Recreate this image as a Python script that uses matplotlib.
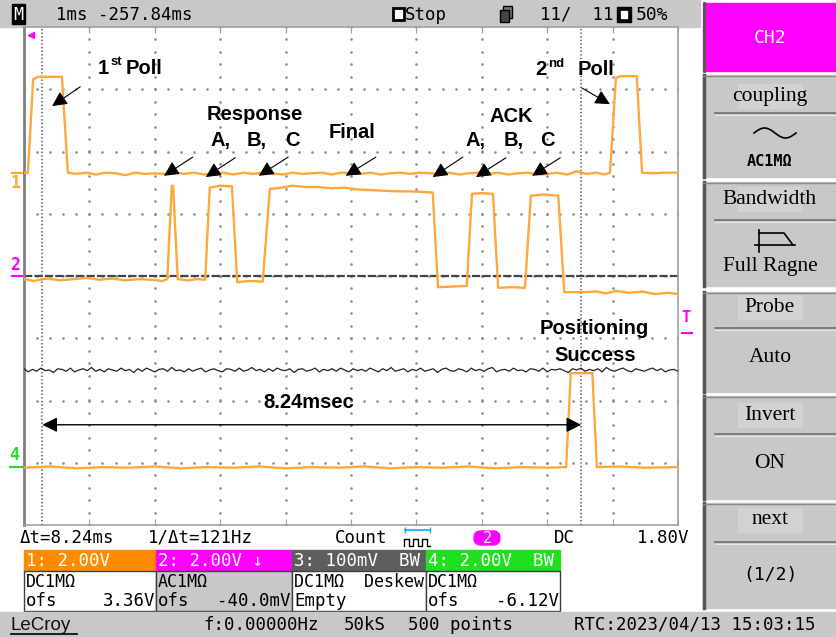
import numpy as np
import matplotlib.pyplot as plt
from matplotlib.patches import Rectangle, FancyBboxPatch

plt.rcParams['lines.scale_dashes'] = False

W, H = 837, 637

# traces: (time in ms from left edge, level in divisions)
ch1 = [(0.00, 1.66), (0.06, 1.66), (0.14, 3.16), (0.22, 3.20), (0.58, 3.20), (0.67, 1.66),
       (0.80, 1.64), (0.95, 1.66), (1.10, 1.63), (1.25, 1.66), (1.40, 1.65), (1.55, 1.62),
       (1.70, 1.66), (1.85, 1.64), (2.00, 1.65), (2.15, 1.64), (2.30, 1.67), (2.45, 1.64),
       (2.60, 1.66), (2.75, 1.63), (2.90, 1.65), (3.05, 1.66), (3.20, 1.63), (3.35, 1.66),
       (3.50, 1.64), (3.65, 1.66), (3.80, 1.65), (3.95, 1.63), (4.10, 1.66), (4.25, 1.64),
       (4.40, 1.65), (4.55, 1.66), (4.70, 1.63), (4.85, 1.66), (5.00, 1.65), (5.15, 1.64),
       (5.30, 1.66), (5.45, 1.63), (5.60, 1.65), (5.75, 1.66), (5.90, 1.64), (6.05, 1.66),
       (6.20, 1.65), (6.35, 1.64), (6.50, 1.66), (6.65, 1.63), (6.80, 1.65), (6.95, 1.66),
       (7.10, 1.64), (7.25, 1.66), (7.40, 1.63), (7.55, 1.65), (7.70, 1.66), (7.85, 1.63),
       (8.00, 1.64), (8.15, 1.66), (8.30, 1.63), (8.45, 1.68), (8.60, 1.64), (8.75, 1.66),
       (8.88, 1.63), (8.96, 1.66), (9.05, 3.18), (9.12, 3.21), (9.37, 3.21), (9.45, 1.66),
       (9.60, 1.65), (9.80, 1.66), (10.00, 1.66)]

ch2 = [(0.00, -0.05), (0.15, -0.08), (0.35, -0.04), (0.55, -0.07), (0.75, -0.05), (0.95, -0.03),
       (1.15, -0.06), (1.35, -0.04), (1.55, -0.07), (1.75, -0.05), (1.95, -0.06), (2.12, -0.08),
       (2.19, -0.05), (2.26, 1.45), (2.28, 1.45), (2.35, -0.05), (2.50, -0.07), (2.65, -0.05),
       (2.77, -0.06), (2.84, 1.42), (3.00, 1.45), (3.18, 1.44), (3.26, -0.10), (3.45, -0.08),
       (3.65, -0.09), (3.76, 1.40), (3.95, 1.42), (4.10, 1.45), (4.30, 1.43), (4.50, 1.43),
       (4.70, 1.41), (4.90, 1.42), (5.10, 1.39), (5.30, 1.38), (5.50, 1.37), (5.70, 1.36),
       (5.90, 1.36), (6.10, 1.35), (6.25, 1.34), (6.33, -0.18), (6.55, -0.17), (6.77, -0.16),
       (6.85, 1.32), (7.00, 1.33), (7.17, 1.32), (7.25, -0.19), (7.45, -0.18), (7.66, -0.19),
       (7.75, 1.29), (7.95, 1.31), (8.17, 1.29), (8.26, -0.26), (8.50, -0.26), (8.75, -0.25),
       (8.90, -0.28), (9.05, -0.24), (9.25, -0.27), (9.45, -0.25), (9.65, -0.29), (9.85, -0.27),
       (10.00, -0.29)]

ch4 = [(0.00, -3.08), (0.40, -3.06), (0.80, -3.09), (1.20, -3.07), (1.60, -3.08), (2.00, -3.06),
       (2.40, -3.09), (2.80, -3.07), (3.20, -3.08), (3.60, -3.06), (4.00, -3.09), (4.40, -3.07),
       (4.80, -3.08), (5.20, -3.06), (5.60, -3.09), (6.00, -3.07), (6.40, -3.08), (6.80, -3.06),
       (7.20, -3.09), (7.60, -3.07), (8.00, -3.08), (8.29, -3.07), (8.36, -1.56), (8.69, -1.56),
       (8.76, -3.07), (9.10, -3.06), (9.50, -3.08), (10.00, -3.07)]

ch3_level = -1.51
ch3_noise = [0.02, -0.03, 0.01, -0.02, 0.03, -0.01, 0.00, -0.04, 0.02, 0.01, -0.02, 0.03, -0.03, 0.00,
             0.02, -0.01, 0.04, -0.02, 0.01, -0.03, 0.02, 0.00, -0.02, 0.03, -0.01, 0.01, -0.04, 0.02,
             -0.02, 0.03, 0.00, -0.03, 0.01, 0.02, -0.02, 0.04, -0.01, 0.00, -0.03, 0.02, -0.02, 0.01,
             0.03, -0.03, 0.00, 0.02, -0.01, -0.03, 0.02, 0.01, -0.02, 0.03, -0.02, 0.00, 0.04, -0.01,
             0.01, -0.03, 0.02, -0.02, 0.03, 0.00, -0.01, 0.02, -0.04, 0.01, 0.02, -0.02, 0.00, 0.03,
             -0.03, 0.01, -0.01, 0.02, -0.02, 0.03, 0.00, -0.03, 0.02, -0.01,
             0.01, -0.02, 0.03, 0.00, -0.03, 0.02, -0.01, 0.04, -0.02, 0.00, 0.02, -0.03, 0.01, -0.01,
             0.03, -0.02, 0.00, 0.02, -0.04, 0.01, 0.03, -0.01, -0.02, 0.02, 0.00, -0.03, 0.03, -0.01,
             0.01, -0.02, 0.02, 0.04, -0.03, 0.00, 0.01, -0.02, 0.03, -0.01, 0.00, -0.03, 0.02, 0.01,
             -0.02, 0.03, -0.03, 0.01, 0.00, 0.02, -0.01, -0.04, 0.02, 0.00, 0.03, -0.02, 0.01, -0.01,
             0.02, -0.03, 0.04, 0.00, -0.02, 0.01, 0.03, -0.01, -0.03, 0.02, 0.00, -0.02, 0.01, 0.03,
             -0.01, 0.02, -0.03, 0.00, 0.01, -0.02]

cursors = [0.28, 8.52]
ch_levels = {'1': 1.66, '2': 0.0, '4': -3.07}

boxes = [('1: 2.00V', 'DC1MΩ', 'ofs', '3.36V', '#ff8c00', 'white'),
         ('2: 2.00V ↓', 'AC1MΩ', 'ofs', '-40.0mV', '#ff00ff', '#c8c8c8'),
         ('3: 100mV  BW', 'DC1MΩ  Deskew', 'Empty', '', '#5e5e5e', 'white'),
         ('4: 2.00V  BW', 'DC1MΩ', 'ofs', '-6.12V', '#1ee01e', 'white')]

menu = [('coupling', 'AC1MΩ'), ('Bandwidth', 'Full Ragne'), ('Probe', 'Auto'),
        ('Invert', 'ON'), ('next', '(1/2)')]

MONO = 'DejaVu Sans Mono'
SANS = 'Liberation Sans'
SERIF = 'Liberation Serif'
ORANGE = '#ffa83a'
MAGENTA = '#ff00ff'
GRAY = '#c8c8c8'

fig = plt.figure(figsize=(W / 100, H / 100), dpi=100)
ui = fig.add_axes([0, 0, 1, 1])
ui.set_xlim(0, W)
ui.set_ylim(H, 0)
ui.axis('off')

# ---- top bar ----
ui.add_patch(Rectangle((0, 0), 700, 27, color=GRAY))
ui.add_patch(Rectangle((12, 4), 13, 20, color='black'))
ui.text(18.5, 14.5, 'M', color='white', family=MONO, fontsize=12, ha='center', va='center')
ui.text(56, 14.5, '1ms -257.84ms', family=MONO, fontsize=12.5, va='center')
ui.add_patch(Rectangle((393, 8), 11, 12, facecolor='white', edgecolor='black', lw=2))
ui.text(405, 14.5, 'Stop', family=MONO, fontsize=12.5, va='center')
ui.add_patch(Rectangle((503, 6), 9, 12, facecolor='#777777', edgecolor='black', lw=1))
ui.add_patch(Rectangle((500, 10), 9, 12, facecolor='#444444', edgecolor='black', lw=1))
ui.text(540, 14.5, '11/  11', family=MONO, fontsize=12.5, va='center')
ui.add_patch(Rectangle((617, 7), 14, 15, color='black'))
ui.add_patch(Rectangle((621, 11), 6, 7, color='white'))
ui.text(636, 14.5, '50%', family=MONO, fontsize=13, va='center')

# ---- status row ----
ui.text(20, 538, 'Δt=8.24ms', family=MONO, fontsize=12.5, va='center')
ui.text(148, 538, '1/Δt=121Hz', family=MONO, fontsize=12.5, va='center')
ui.text(335, 538, 'Count', family=MONO, fontsize=12.5, va='center')
ui.plot([405, 430], [530, 530], color='#00b0f0', lw=1.2)
ui.plot([405, 430], [530, 530], ls='none', marker='|', color='#00b0f0', ms=5)
ui.plot([404, 404, 409, 409, 413, 413, 418, 418, 422, 422, 427, 427, 430],
        [546, 539, 539, 546, 546, 539, 539, 546, 546, 539, 539, 546, 546], color='black', lw=1)
ui.add_patch(FancyBboxPatch((474, 531), 26, 14, boxstyle='round,pad=0,rounding_size=7', color=MAGENTA))
ui.text(487, 538.5, '2', color='white', family=MONO, fontsize=11, ha='center', va='center')
ui.text(554, 538, 'DC', family=MONO, fontsize=12.5, va='center')
ui.text(689, 538, '1.80V', family=MONO, fontsize=12.5, va='center', ha='right')

# ---- channel boxes ----
bx = [24, 156, 292, 426, 560]
for i, (head, l1, l2, val, hc, bc) in enumerate(boxes):
    x0, x1 = bx[i], bx[i + 1]
    ui.add_patch(Rectangle((x0, 550), x1 - x0, 21, color=hc))
    ui.add_patch(Rectangle((x0, 571), x1 - x0, 40, facecolor=bc, edgecolor='#404040', lw=1))
    ui.text(x0 + 2, 560.5, head, color='white', family=MONO, fontsize=12.5, va='center')
    ui.text(x0 + 2, 582, l1, family=MONO, fontsize=12, va='center')
    ui.text(x0 + 2, 601, l2, family=MONO, fontsize=12.5, va='center')
    if val:
        ui.text(x1 - 1, 601, val, family=MONO, fontsize=12.5, va='center', ha='right')

# ---- footer ----
ui.add_patch(Rectangle((0, 612), W, 25, color=GRAY))
ui.text(11, 625, 'LeCroy', family=SANS, fontsize=13.5, va='center', color='#111111')
ui.plot([11, 77], [634, 634], color='black', lw=1.2)
ui.text(203, 624.5, 'f:0.00000Hz', family=MONO, fontsize=12.5, va='center')
ui.text(344, 624.5, '50kS', family=MONO, fontsize=12.5, va='center')
ui.text(408, 624.5, '500 points', family=MONO, fontsize=12.5, va='center')
ui.text(816, 624.5, 'RTC:2023/04/13 15:03:15', family=MONO, fontsize=12.5, va='center', ha='right')

# ---- right menu ----
ui.add_patch(Rectangle((703, 3), 134, 68, color=MAGENTA))
ui.plot([704, 704], [3, 71], color='#555555', lw=2)
ui.text(770, 38, 'CH2', color='white', family=MONO, fontsize=13, ha='center', va='center')
spans = [(75, 177), (182, 286), (292, 392), (396, 499), (503, 608)]
label_y = [96, 199, 307, 415, 520]
sep_y = [113, 220, 328, 434, 542]
value_y = [162, 267, 358, 463, 575]
for k, (lab, val) in enumerate(menu):
    top, bot = spans[k]
    ui.add_patch(Rectangle((703, top), 134, bot - top, color=GRAY))
    ui.plot([704, 704], [top, bot], color='#555555', lw=2.5)
    ui.plot([703, 837], [top + 0.5, top + 0.5], color='#888888', lw=1)
    ui.add_patch(Rectangle((738, label_y[k] - 12), 64, 24, color='#d2d2d2'))
    ui.text(770, label_y[k], lab, family=SERIF, fontsize=15.5, ha='center', va='center')
    ui.plot([715, 835], [sep_y[k], sep_y[k]], color='#6e6e6e', lw=1.2)
    ui.plot([715, 835], [sep_y[k] + 1.5, sep_y[k] + 1.5], color='#e8e8e8', lw=0.8)
    if k == 0:
        ui.text(770, value_y[k], val, family=MONO, fontsize=11, weight='bold', ha='center', va='center')
    elif k == 4:
        ui.text(770, value_y[k], val, family=MONO, fontsize=13, ha='center', va='center')
    else:
        ui.text(770, value_y[k], val, family=SERIF, fontsize=15.5, ha='center', va='center')

# coupling icon and bandwidth icon
sx = np.linspace(754, 796, 40)
ui.plot(sx, 133 - 5 * np.sin((sx - 754) / 42 * 2 * np.pi), color='black', lw=1.2)
ui.plot([755, 795], [245, 245], color='black', lw=1.2)
ui.plot([759, 759], [230, 252], color='black', lw=1.2)
ui.plot([759, 784, 793], [233, 233, 245], color='black', lw=1.2)

# ---- scope screen ----
ax = fig.add_axes([24 / W, 1 - 525 / H, 654 / W, 498 / H])
ax.set_xlim(0, 10)
ax.set_ylim(-4, 4)
# dotted graticule: a dot every fifth of a division along each major line
minor_y = np.arange(-4, 4.001, 0.2)
minor_x = np.arange(0, 10.001, 0.2)
gx = [float(i) for i in range(1, 10) for _ in minor_y] + [float(x) for _ in range(-3, 4) for x in minor_x]
gy = [float(y) for _ in range(1, 10) for y in minor_y] + [float(j) for j in range(-3, 4) for _ in minor_x]
ax.scatter(gx, gy, s=3.5, marker='o', color='#8c8c8c', linewidths=0, zorder=1.5)
ax.set_xticks(range(11))
ax.set_yticks([])
ax.tick_params(direction='in', length=4, color='#a0a0a0', labelbottom=False, top=True)
for s in ax.spines.values():
    s.set_color('#a0a0a0')
    s.set_linewidth(1.2)
ax.spines['left'].set_color('#808080')
ax.spines['left'].set_linewidth(2)

ax.axhline(ch_levels['2'], color='#444444', lw=1.6, linestyle=(0, (6, 1.5)), zorder=2)
for c in cursors:
    ax.axvline(c, color='#505050', lw=1.1, linestyle=(0, (1, 1.6)), zorder=2)

for tr in (ch1, ch2, ch4):
    t, v = zip(*tr)
    ax.plot(t, v, color=ORANGE, lw=1.7, zorder=3)
t3 = np.linspace(0, 10, len(ch3_noise))
ax.plot(t3, ch3_level + np.array(ch3_noise), color='#222222', lw=0.9, zorder=3)

# channel markers
ax.plot([-0.18, 0.04], [ch_levels['1']] * 2, color=ORANGE, lw=1.5, clip_on=False)
ax.text(-0.13, ch_levels['1'] - 0.17, '1', color=ORANGE, family=MONO, fontsize=12, weight='bold',
        ha='center', va='center')
ax.plot([-0.18, -0.03], [ch_levels['2']] * 2, color=MAGENTA, lw=1.5, clip_on=False)
ax.text(-0.13, ch_levels['2'] + 0.18, '2', color=MAGENTA, family=MONO, fontsize=12, weight='bold',
        ha='center', va='center')
ax.plot([-0.21, -0.03], [ch_levels['4']] * 2, color='#22dd22', lw=1.5, clip_on=False)
ax.text(-0.15, ch_levels['4'] + 0.19, '4', color='#22dd22', family=MONO, fontsize=12, weight='bold',
        ha='center', va='center')
ax.text(10.12, -0.67, 'T', color=MAGENTA, family=MONO, fontsize=11, weight='bold', ha='center', va='center')
ax.plot([10.06, 10.21], [-0.92, -0.92], color=MAGENTA, lw=1.5, clip_on=False)
ax.plot([0.10], [3.87], marker='<', color=MAGENTA, ms=5, clip_on=False)

# ---- annotations ----
bold = dict(family=SANS, weight='bold', color='black', zorder=6)
ax.text(1.13, 3.34, '1', fontsize=14.5, va='center', **bold)
ax.text(1.32, 3.43, 'st', fontsize=9.5, va='center', **bold)
ax.text(1.55, 3.34, 'Poll', fontsize=14.5, va='center', **bold)
ax.text(7.82, 3.31, '2', fontsize=14.5, va='center', **bold)
ax.text(8.02, 3.41, 'nd', fontsize=9.5, va='center', **bold)
ax.text(8.46, 3.31, 'Poll', fontsize=14.5, va='center', **bold)
ax.text(3.53, 2.59, 'Response', fontsize=14.5, ha='center', va='center', **bold)
for x, s in [(3.00, 'A,'), (3.56, 'B,'), (4.11, 'C'), (6.90, 'A,'), (7.48, 'B,'), (8.01, 'C')]:
    ax.text(x, 2.17, s, fontsize=14.5, ha='center', va='center', **bold)
ax.text(5.02, 2.30, 'Final', fontsize=14.5, ha='center', va='center', **bold)
ax.text(7.45, 2.57, 'ACK', fontsize=14.5, ha='center', va='center', **bold)
ax.text(8.72, -0.85, 'Positioning', fontsize=14.5, ha='center', va='center', **bold)
ax.text(8.73, -1.27, 'Success', fontsize=14.5, ha='center', va='center', **bold)
ax.text(4.36, -2.04, '8.24msec', fontsize=14.5, ha='center', va='center', **bold)

arrows = [((0.86, 3.04), (0.43, 2.73)), ((2.58, 1.91), (2.14, 1.61)), ((3.23, 1.90), (2.78, 1.59)),
          ((4.04, 1.91), (3.59, 1.61)), ((5.38, 1.91), (4.92, 1.61)), ((6.71, 1.91), (6.25, 1.59)),
          ((7.37, 1.90), (6.91, 1.59)), ((8.20, 1.90), (7.77, 1.61)), ((8.53, 3.02), (8.96, 2.76))]
for tail, head in arrows:
    ax.annotate('', xy=head, xytext=tail, zorder=5,
                arrowprops=dict(arrowstyle='-|>,head_length=0.6,head_width=0.3', mutation_scale=15,
                                lw=0.8, color='black', shrinkA=0, shrinkB=0))
ax.annotate('', xy=(cursors[1], -2.39), xytext=(cursors[0], -2.39), zorder=5,
            arrowprops=dict(arrowstyle='<|-|>,head_length=0.6,head_width=0.3', mutation_scale=15,
                            lw=1.0, color='black', shrinkA=0, shrinkB=0))

fig.savefig('out.png', dpi=100)
